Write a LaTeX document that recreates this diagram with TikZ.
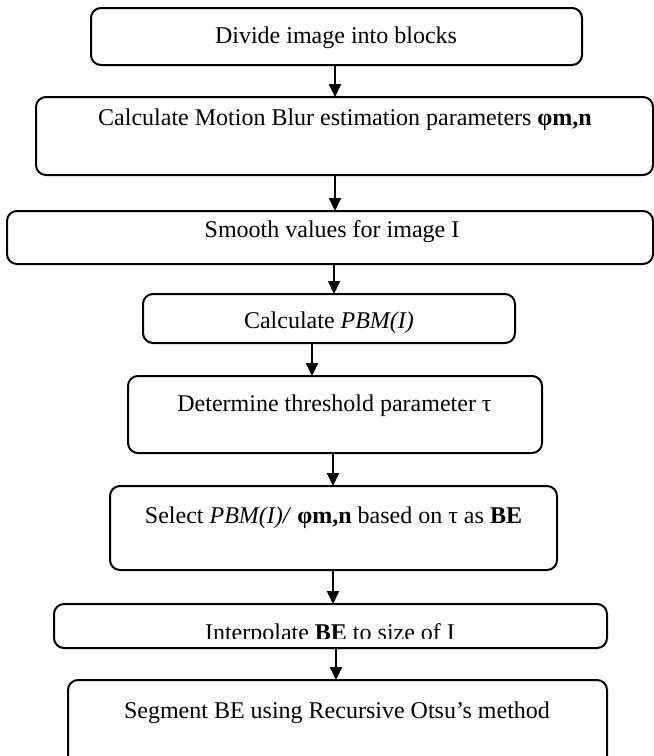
\documentclass[tikz,border=0pt]{standalone}
\usepackage{fontspec}
\setmainfont{Liberation Serif}
\usetikzlibrary{arrows.meta}
\begin{document}
\begin{tikzpicture}[x=0.5pt,y=-0.5pt,
  box/.style={draw, line width=1pt, rounded corners=5pt, inner sep=0pt, outer sep=0pt},
  lbl/.style={inner sep=0pt, anchor=base, font=\fontsize{12}{14}\selectfont},
  arr/.style={line width=1pt, -{Triangle[length=6.5pt,width=6pt]}}]
\useasboundingbox (0,0) rectangle (654,756);
\clip (0,0) rectangle (654,756);
% boxes
\node[box, minimum width=245.5pt, minimum height=28.5pt] (b1) at (336.5,36.5) {};
\node[box, minimum width=308.5pt, minimum height=39pt] (b2) at (344.5,136) {};
\node[box, minimum width=323pt, minimum height=26.5pt] (b3) at (330,237.5) {};
\node[box, minimum width=186pt, minimum height=24.5pt] (b4) at (329,318.5) {};
\node[box, minimum width=207pt, minimum height=38.5pt] (b5) at (335,414.5) {};
\node[box, minimum width=223.5pt, minimum height=42pt] (b6) at (333.5,528) {};
\node[box, minimum width=276.5pt, minimum height=22pt] (b7) at (330.5,626) {};
\node[box, minimum width=269.5pt, minimum height=55pt] (b8) at (337.5,735) {};
% texts
\node[lbl] (t1) at (336,43) {Divide image into blocks};
\node[lbl] (t2) at (345,125) {Calculate Motion Blur estimation parameters \textbf{φm,n}};
\node[lbl] (t3) at (332,237) {Smooth values for image I};
\node[lbl] (t4) at (329,328) {Calculate \textit{PBM(I)}};
\node[lbl] (t5) at (334.5,411) {Determine threshold parameter τ};
\node[lbl] (t6) at (333.5,523) {Select \textit{PBM(I)/} \textbf{φm,n} based on τ as \textbf{BE}};
\begin{scope}
\clip (0,600) rectangle (654,638);
\node[lbl] (t7) at (330,640) {Interpolate \textbf{BE} to size of I};
\end{scope}
\node[lbl] (t8) at (337,718) {Segment BE using Recursive Otsu’s method};
% arrows
\draw[arr] ([xshift=-0.75pt]b1.south) -- ([xshift=-4.75pt]b2.north);
\draw[arr] ([xshift=-4.75pt]b2.south) -- ([xshift=2.5pt]b3.north);
\draw[arr] ([xshift=2pt]b3.south) -- ([xshift=2.5pt]b4.north);
\draw[arr] ([xshift=-8.5pt]b4.south) -- ([xshift=-11.5pt]b5.north);
\draw[arr] ([xshift=-1pt]b5.south) -- ([xshift=-0.25pt]b6.north);
\draw[arr] ([xshift=-0.25pt]b6.south) -- ([xshift=1.25pt]b7.north);
\draw[arr] ([xshift=2.75pt]b7.south) -- ([xshift=-0.75pt]b8.north);
\end{tikzpicture}
\end{document}
